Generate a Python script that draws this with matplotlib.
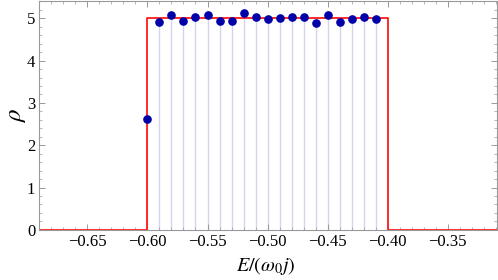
import matplotlib.pyplot as plt
from matplotlib.ticker import MultipleLocator, FuncFormatter

# data
energies = [-0.60, -0.59, -0.58, -0.57, -0.56, -0.55, -0.54, -0.53, -0.52, -0.51,
            -0.50, -0.49, -0.48, -0.47, -0.46, -0.45, -0.44, -0.43, -0.42, -0.41]
density = [2.61, 4.92, 5.08, 4.94, 5.02, 5.09, 4.94, 4.94, 5.13, 5.04,
           4.98, 5.00, 5.04, 5.03, 4.90, 5.07, 4.92, 4.98, 5.04, 4.99]
band_x = [-0.70, -0.60, -0.60, -0.40, -0.40, -0.30]
band_y = [0, 0, 5, 5, 0, 0]
xticks = [-0.65, -0.60, -0.55, -0.50, -0.45, -0.40, -0.35]
yticks = [0, 1, 2, 3, 4, 5]

plt.rcParams['font.family'] = ['Liberation Serif', 'DejaVu Serif']
plt.rcParams['mathtext.fontset'] = 'stix'

fig = plt.figure(figsize=(4.98, 2.8), dpi=100)
ax = fig.add_axes([0.079, 0.179, 0.919, 0.816])

# light vertical stems from the axis to each point
ax.vlines(energies, 0, density, color='#d4d4ee', lw=1.0, zorder=1)
ax.plot(band_x, band_y, color='#ff1a1a', lw=1.3, zorder=2)
ax.plot(energies, density, 'o', color='#0000a8', ms=5.2, zorder=3)

ax.set_xlim(-0.69, -0.309)
ax.set_ylim(0, 5.4)
ax.set_xticks(xticks)
ax.set_yticks(yticks)
ax.xaxis.set_minor_locator(MultipleLocator(0.01))
ax.yaxis.set_minor_locator(MultipleLocator(0.2))
ax.xaxis.set_major_formatter(FuncFormatter(lambda v, p: ('%.2f' % v).replace('-', '\u2212')))
ax.yaxis.set_major_formatter(FuncFormatter(lambda v, p: '%d' % v))

for s in ax.spines.values():
    s.set_color('#999999')
    s.set_linewidth(0.8)
ax.tick_params(which='both', direction='in', top=True, right=True, color='#999999',
               labelsize=12, pad=3)
ax.tick_params(which='major', length=4, width=0.7)
ax.tick_params(which='minor', length=2, width=0.5)
ax.tick_params(axis='x', which='both', top=True, labeltop=False)

ax.set_xlabel(r'$E/(\omega_0 j)$', fontsize=14.5, va='center')
ax.xaxis.set_label_coords(0.496, -0.158)
ax.set_ylabel(r'$\rho$', fontsize=18, va='center')
ax.yaxis.set_label_coords(-0.049, 0.5)

fig.savefig('out.png', dpi=100)
